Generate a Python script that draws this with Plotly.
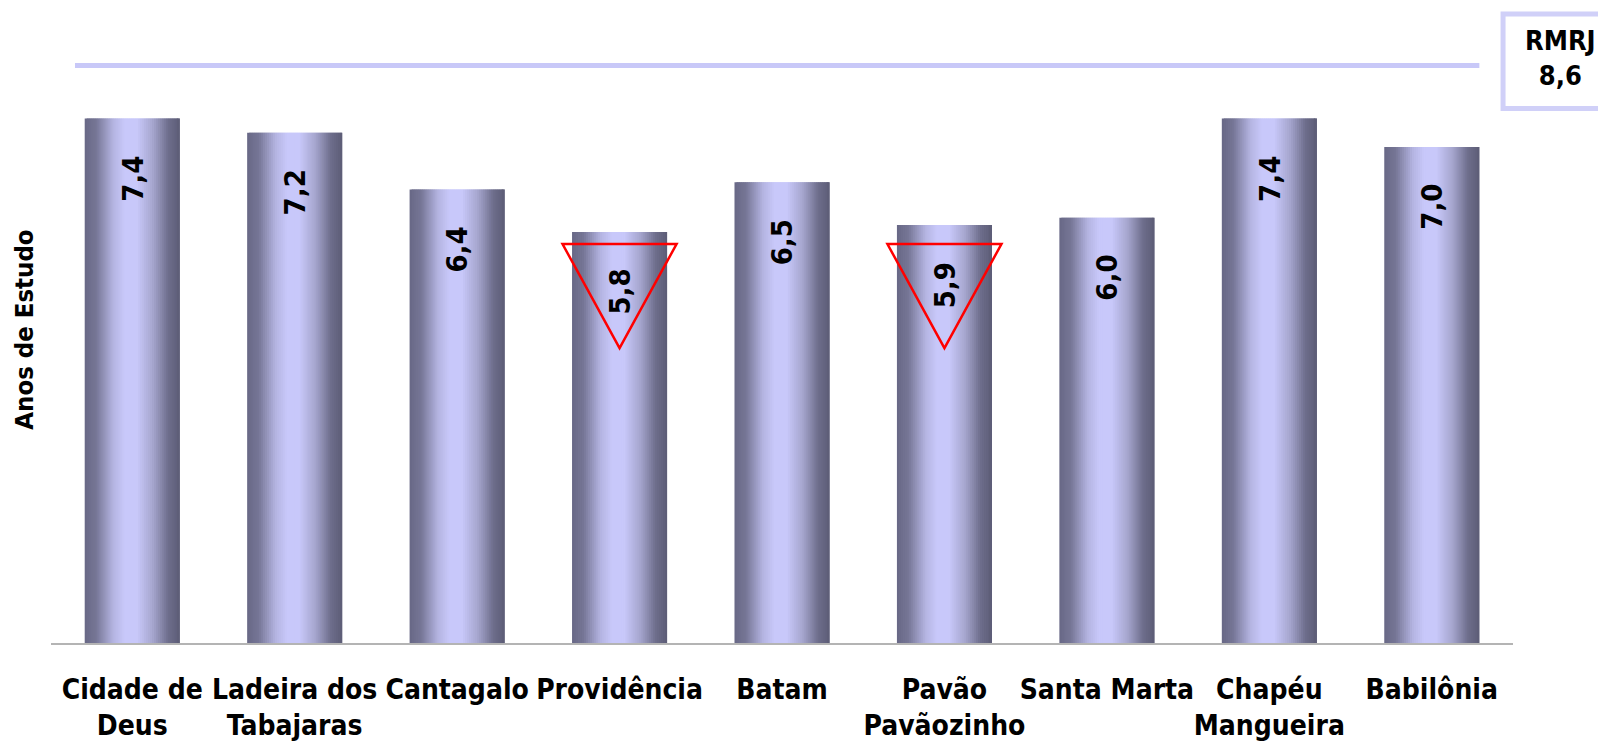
import plotly.graph_objects as go

# ---- data ----
categorias = ["Cidade de<br>Deus", "Ladeira dos<br>Tabajaras", "Cantagalo", "Providência",
              "Batam", "Pavão<br>Pavãozinho", "Santa Marta", "Chapéu<br>Mangueira", "Babilônia"]
anos_estudo = [7.4, 7.2, 6.4, 5.8, 6.5, 5.9, 6.0, 7.4, 7.0]
rotulos = ["7,4", "7,2", "6,4", "5,8", "6,5", "5,9", "6,0", "7,4", "7,0"]
destaques = ["Providência", "Pavão<br>Pavãozinho"]
referencia_nome = "RMRJ"
referencia_rotulo = "8,6"

# ---- style ----
FONT = "DejaVu Sans Condensed, DejaVu Sans"
BAR_W = 0.585
N_STRIPS = 48
stops = [(0.0, (104, 104, 134)), (0.12, (118, 118, 150)), (0.3, (180, 180, 225)),
         (0.42, (200, 200, 250)), (0.55, (200, 200, 250)), (0.72, (165, 165, 205)),
         (0.88, (110, 110, 140)), (1.0, (92, 92, 118))]


def grad(t):
    for (t0, c0), (t1, c1) in zip(stops[:-1], stops[1:]):
        if t0 <= t <= t1:
            f = (t - t0) / (t1 - t0) if t1 > t0 else 0
            c = [round(a + (b - a) * f) for a, b in zip(c0, c1)]
            return "rgb(%d,%d,%d)" % tuple(c)
    return "rgb(%d,%d,%d)" % stops[-1][1]


idx = list(range(len(categorias)))
fig = go.Figure()
step = BAR_W / N_STRIPS
for k in range(N_STRIPS):
    off = -BAR_W / 2 + k * step
    w = min(step * 2.0, BAR_W / 2 - off)
    fig.add_trace(go.Bar(x=idx, y=anos_estudo, offset=off, width=w,
                         marker=dict(color=grad((k + 0.5) / N_STRIPS), line=dict(width=0)),
                         hoverinfo="skip", showlegend=False))

annotations = []
for i, (v, lab) in enumerate(zip(anos_estudo, rotulos)):
    annotations.append(dict(x=i, y=v, xref="x", yref="y", text="<b>%s</b>" % lab,
                            textangle=-90, showarrow=False, yanchor="middle", xanchor="center",
                            yshift=-60, font=dict(family=FONT, size=29, color="black")))

annotations.append(dict(x=-0.0185, y=0.511, xref="paper", yref="paper",
                        text="<b>Anos de Estudo</b>", textangle=-90, showarrow=False,
                        xanchor="center", yanchor="middle",
                        font=dict(family=FONT, size=25.5, color="black")))
annotations.append(dict(x=1.0328, y=0.954, xref="paper", yref="paper",
                        text="<b>%s</b><br><b>%s</b>" % (referencia_nome, referencia_rotulo),
                        showarrow=False, xanchor="center", yanchor="middle",
                        font=dict(family=FONT, size=27, color="black")))

shapes = [
    dict(type="line", xref="paper", yref="paper", x0=0.0164, x1=0.977, y0=0.942, y1=0.942,
         line=dict(color="#c8c8f8", width=5)),
    dict(type="rect", xref="paper", yref="paper", x0=0.9932, x1=1.08, y0=0.872, y1=1.026,
         line=dict(color="#d0d0f8", width=5), fillcolor="rgba(0,0,0,0)"),
]
TRI_TOP = 5.63
TRI_BOTTOM = 4.16
TRI_HALF = 0.351
for i, c in enumerate(categorias):
    if c in destaques:
        path = "M %f,%f L %f,%f L %f,%f Z" % (i - TRI_HALF, TRI_TOP, i + TRI_HALF, TRI_TOP, i, TRI_BOTTOM)
        shapes.append(dict(type="path", xref="x", yref="y", path=path,
                           line=dict(color="#ff0000", width=2.5), fillcolor="rgba(0,0,0,0)"))

fig.update_layout(
    width=1598, height=737, barmode="overlay",
    margin=dict(l=43, r=93, t=22, b=102, autoexpand=False),
    plot_bgcolor="white", paper_bgcolor="white",
    annotations=annotations, shapes=shapes, showlegend=False,
    xaxis=dict(range=[-0.5, 8.5], tickmode="array", tickvals=idx, ticktext=categorias,
               showgrid=False, zeroline=False, showline=True, linecolor="#b4b4b4", linewidth=2,
               ticks="", ticklabelstandoff=20, tickangle=0, automargin=False,
               tickfont=dict(family=FONT, size=28, color="black", weight="bold")),
    yaxis=dict(range=[0, 8.65], showgrid=False, zeroline=False, showline=False,
               showticklabels=False, ticks="", automargin=False),
)
fig.write_html("out.html")
